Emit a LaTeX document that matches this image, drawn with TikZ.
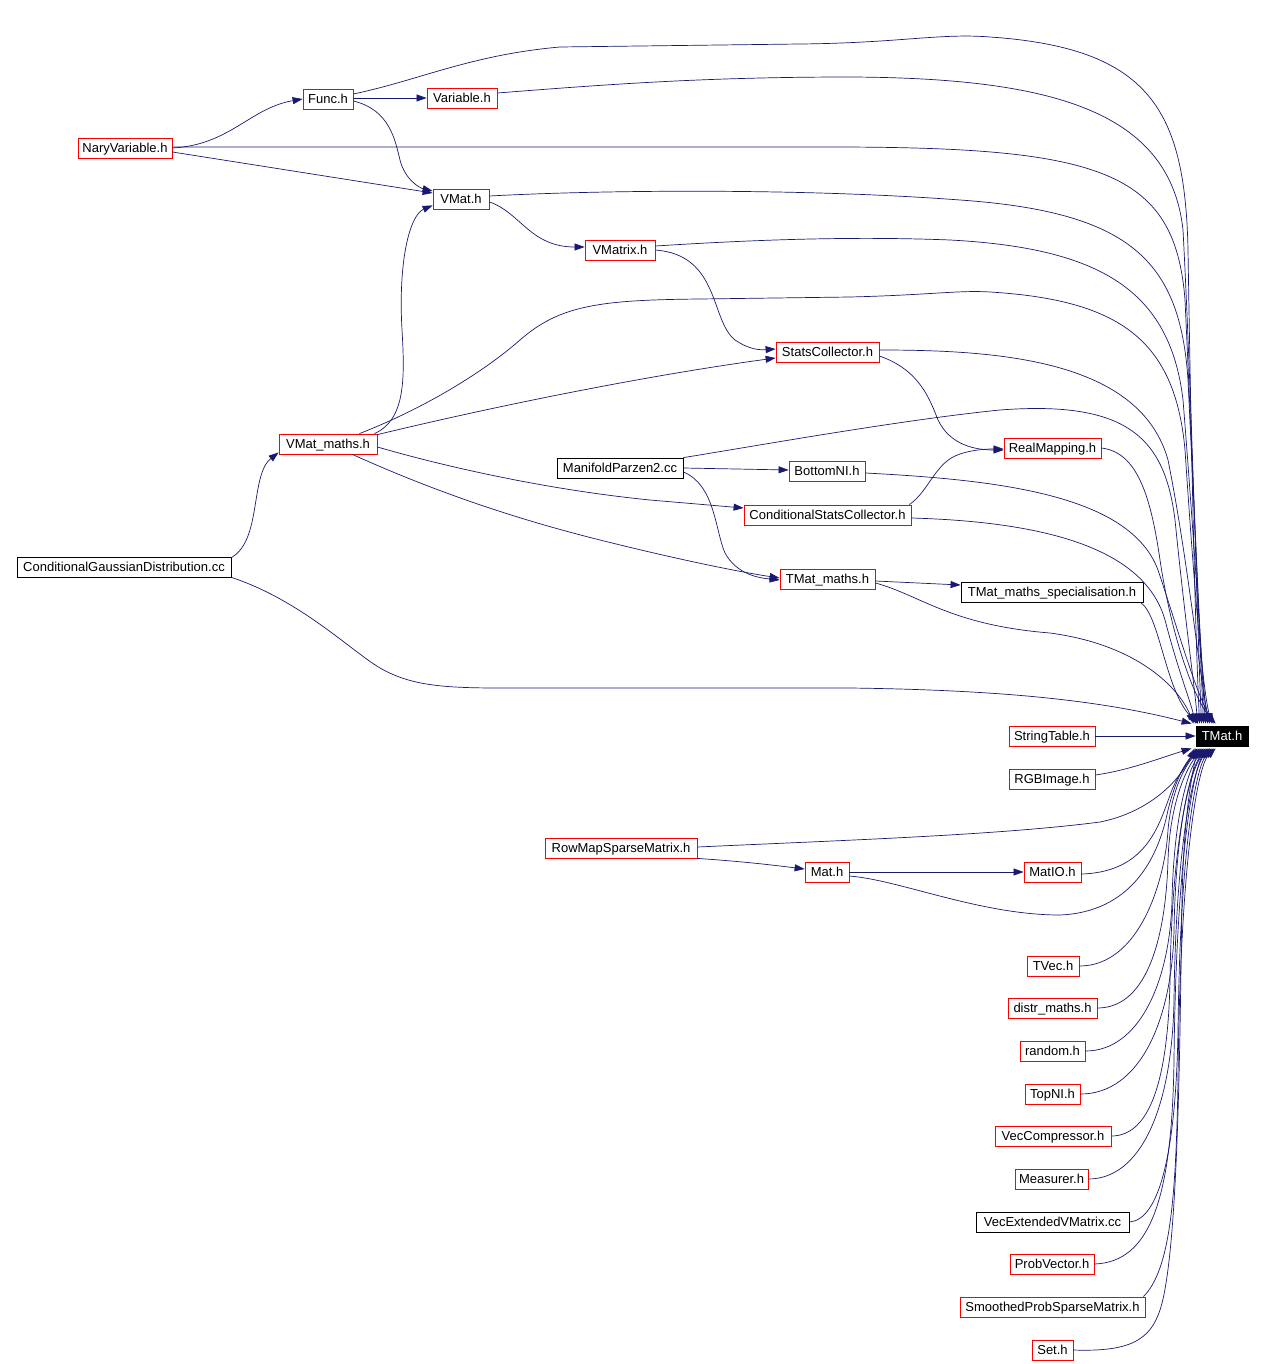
\documentclass[tikz,border=0pt]{standalone}
\usepackage{fontspec}
\setmainfont{Liberation Sans}
\usetikzlibrary{arrows.meta,calc,positioning}
\definecolor{edgeblue}{HTML}{191970}
\tikzset{
  fbox/.style={draw,line width=0.8pt,minimum height=20pt,inner sep=0pt,text height=9.6pt,text depth=0pt,font=\fontsize{13}{15}\selectfont},
  redbox/.style={fbox,draw=red},
  blkbox/.style={fbox,draw=black},
  rootbox/.style={fbox,fill=black,text=white},
  dep/.style={-{Triangle[length=10pt,width=7pt]},draw=edgeblue,line width=0.7pt}
}
\begin{document}
\begin{tikzpicture}[x=1pt,y=-1pt]
\useasboundingbox (0,0) rectangle (1268,1364);
% files
\node[redbox,minimum width=94] (nary) at (125,148) {NaryVariable.h};
\node[redbox,minimum width=50] (func) at (328,99) {Func.h};
\node[redbox,minimum width=70] (variable) at (462,98) {Variable.h};
\node[redbox,minimum width=56] (vmat) at (461,199) {VMat.h};
\node[redbox,minimum width=70] (vmatrix) at (620,250) {VMatrix.h};
\node[redbox,minimum width=103] (stats) at (827.5,352) {StatsCollector.h};
\node[redbox,minimum width=98] (vmaths) at (328,444) {VMat\_maths.h};
\node[blkbox,minimum width=126] (parzen) at (620,468) {ManifoldParzen2.cc};
\node[redbox,minimum width=76] (bottomni) at (827,471) {BottomNI.h};
\node[redbox,minimum width=97] (realmap) at (1052.5,448) {RealMapping.h};
\node[redbox,minimum width=167] (condstats) at (827.5,515) {ConditionalStatsCollector.h};
\node[blkbox,minimum width=214] (condgauss) at (124,567) {ConditionalGaussianDistribution.cc};
\node[redbox,minimum width=95] (tmaths) at (827.5,579) {TMat\_maths.h};
\node[blkbox,minimum width=182] (tmspec) at (1052,592) {TMat\_maths\_specialisation.h};
\node[rootbox,minimum width=52] (tmat) at (1222,736) {TMat.h};
\node[redbox,minimum width=86] (strtab) at (1052,736) {StringTable.h};
\node[redbox,minimum width=86] (rgb) at (1052,779) {RGBImage.h};
\node[redbox,minimum width=152] (rowmap) at (621,848) {RowMapSparseMatrix.h};
\node[redbox,minimum width=44] (mat) at (827,872) {Mat.h};
\node[redbox,minimum width=57] (matio) at (1052.5,872) {MatIO.h};
\node[redbox,minimum width=52] (tvec) at (1053,966) {TVec.h};
\node[redbox,minimum width=89] (distr) at (1052.5,1008) {distr\_maths.h};
\node[redbox,minimum width=65] (random) at (1052.5,1051) {random.h};
\node[redbox,minimum width=55] (topni) at (1052.5,1094) {TopNI.h};
\node[redbox,minimum width=116] (veccomp) at (1053,1136) {VecCompressor.h};
\node[redbox,minimum width=73] (measurer) at (1051.5,1179) {Measurer.h};
\node[blkbox,minimum width=153] (vecext) at (1052.5,1222) {VecExtendedVMatrix.cc};
\node[redbox,minimum width=84] (probvec) at (1052,1264) {ProbVector.h};
\node[redbox,minimum width=185] (smoothed) at (1052.5,1307) {SmoothedProbSparseMatrix.h};
\node[redbox,minimum width=41] (set) at (1052.5,1350) {Set.h};
% NaryVariable.h
\draw[dep] (nary.east) .. controls (230,145) and (250,108) .. (func.west);
\draw[dep] ([yshift=-4]nary.east) -- ([yshift=6]vmat.west);
\draw[dep] ([yshift=1]nary.east) -- (830,147) .. controls (1100,147) and (1175,170) .. (1185,300) .. controls (1192,450) and (1200,650) .. ([xshift=8,yshift=2]tmat.north west);
% Func.h
\draw[dep] ([yshift=1]func.east) -- (variable.west);
\draw[dep] ([yshift=-2]func.east) .. controls (390,110) and (395,140) .. (400,160) .. controls (405,180) and (420,188) .. ([yshift=8]vmat.west);
\draw[dep] ([yshift=5]func.east) .. controls (420,80) and (470,55) .. (560,47) -- (800,44) .. controls (900,43) and (940,33) .. (990,37) .. controls (1150,48) and (1185,110) .. (1188,250) .. controls (1192,500) and (1196,650) .. ([xshift=4,yshift=2]tmat.north west);
% Variable.h
\draw[dep] ([yshift=5]variable.east) .. controls (600,85) and (700,77) .. (850,77) .. controls (1050,78) and (1170,110) .. (1183,230) .. controls (1192,400) and (1198,650) .. ([xshift=6,yshift=2]tmat.north west);
% VMat.h
\draw[dep] ([yshift=-3]vmat.east) .. controls (520,212) and (530,247) .. ([yshift=3]vmatrix.west);
\draw[dep] ([yshift=3]vmat.east) .. controls (600,190) and (800,188) .. (960,200) .. controls (1130,212) and (1180,260) .. (1188,380) .. controls (1196,550) and (1202,680) .. ([xshift=10,yshift=2]tmat.north west);
% VMatrix.h
\draw[dep] (vmatrix.east) .. controls (720,255) and (710,320) .. (735,340) .. controls (750,350) and (760,350) .. ([yshift=3]stats.west);
\draw[dep] ([yshift=4]vmatrix.east) .. controls (750,240) and (850,236) .. (950,240) .. controls (1100,248) and (1170,290) .. (1183,400) .. controls (1195,550) and (1203,690) .. ([xshift=12,yshift=2]tmat.north west);
% StatsCollector.h
\draw[dep] ([yshift=-4]stats.east) .. controls (920,370) and (930,400) .. (938,420) .. controls (950,445) and (975,450) .. ([yshift=-2]realmap.west);
\draw[dep] ([yshift=2]stats.east) .. controls (1000,350) and (1140,360) .. (1168,460) .. controls (1188,560) and (1200,680) .. ([xshift=14,yshift=2]tmat.north west);
% VMat_maths.h
\draw[dep] ([xshift=-3]vmaths.north east) .. controls (405,420) and (405,380) .. (402,330) .. controls (398,260) and (410,215) .. ([yshift=4]vmat.south west);
\draw[dep] ([yshift=-1]vmaths.north east) .. controls (500,405) and (650,375) .. ([yshift=-6]stats.west);
\draw[dep] ([xshift=-18]vmaths.north east) .. controls (420,410) and (480,375) .. (520,340) .. controls (560,305) and (600,300) .. (700,299) -- (850,297) .. controls (930,295) and (960,290) .. (990,292) .. controls (1120,300) and (1175,340) .. (1185,450) .. controls (1195,600) and (1203,690) .. ([xshift=16,yshift=2]tmat.north west);
\draw[dep] ([yshift=-3]vmaths.east) .. controls (450,468) and (550,490) .. (650,500) -- ([yshift=7]condstats.west);
\draw[dep] ([xshift=-25]vmaths.south east) .. controls (420,485) and (500,515) .. (600,540) .. controls (680,560) and (740,572) .. ([yshift=1]tmaths.west);
% ManifoldParzen2.cc
\draw[dep] (parzen.east) -- ([yshift=1]bottomni.west);
\draw[dep] ([yshift=-4]parzen.east) .. controls (715,485) and (715,530) .. (725,553) .. controls (737,575) and (760,578) .. ([yshift=-1]tmaths.west);
\draw[dep] (parzen.north east) .. controls (750,447) and (900,420) .. (1000,410) .. controls (1130,400) and (1165,440) .. (1175,520) .. controls (1185,620) and (1195,690) .. ([xshift=2,yshift=2]tmat.north west);
% BottomNI.h, RealMapping.h
\draw[dep] ([yshift=-2]bottomni.east) .. controls (1000,480) and (1130,495) .. (1158,570) .. controls (1178,630) and (1195,690) .. ([xshift=18,yshift=2]tmat.north west);
\draw[dep] (realmap.east) .. controls (1135,452) and (1150,490) .. (1160,560) .. controls (1172,640) and (1195,700) .. ([xshift=20,yshift=2]tmat.north west);
% ConditionalStatsCollector.h
\draw[dep] ([xshift=-2]condstats.north east) .. controls (930,490) and (935,462) .. (960,454) .. controls (975,449) and (990,449) .. ([yshift=-1]realmap.west);
\draw[dep] ([yshift=-3]condstats.east) .. controls (1050,522) and (1145,550) .. (1165,620) .. controls (1178,670) and (1190,700) .. ([yshift=2]tmat.north west);
% TMat_maths.h
\draw[dep] ([yshift=-2]tmaths.east) -- ([yshift=7]tmspec.west);
\draw[dep] ([yshift=-4]tmaths.east) .. controls (920,595) and (950,625) .. (1050,633) .. controls (1140,645) and (1180,690) .. ([xshift=-2,yshift=2]tmat.north west);
\draw[dep] ([xshift=-3]tmspec.south east) .. controls (1160,615) and (1165,690) .. ([xshift=2,yshift=2]tmat.north west);
% ConditionalGaussianDistribution.cc
\draw[dep] ([yshift=-1]condgauss.north east) .. controls (262,540) and (250,475) .. ([yshift=2]vmaths.south west);
\draw[dep] (condgauss.south east) .. controls (300,600) and (350,650) .. (380,668) .. controls (410,685) and (440,688) .. (500,688) -- (850,688) .. controls (1000,690) and (1100,700) .. ([xshift=-4,yshift=2]tmat.north west);
% lower files
\draw[dep] (strtab.east) -- (tmat.west);
\draw[dep] ([yshift=4]rgb.east) .. controls (1130,770) and (1160,758) .. ([xshift=-4,yshift=-2]tmat.south west);
\draw[dep] ([yshift=1]rowmap.east) .. controls (850,840) and (1000,835) .. (1100,822) .. controls (1150,812) and (1180,780) .. ([xshift=-1,yshift=-2]tmat.south west);
\draw[dep] (rowmap.south east) .. controls (750,862) and (780,866) .. ([yshift=3]mat.west);
\draw[dep] (mat.east) -- (matio.west);
\draw[dep] ([yshift=-4]mat.east) .. controls (900,880) and (980,915) .. (1060,915) .. controls (1130,912) and (1158,860) .. (1168,810) .. controls (1178,770) and (1190,758) .. ([xshift=2,yshift=-2]tmat.south west);
\draw[dep] ([yshift=-2]matio.east) .. controls (1150,872) and (1160,820) .. (1172,790) .. controls (1180,770) and (1192,757) .. ([xshift=4,yshift=-2]tmat.south west);
\draw[dep] (tvec.east) .. controls (1140,966) and (1165,880) .. (1168,830) .. controls (1172,785) and (1188,762) .. ([xshift=6,yshift=-2]tmat.south west);
\draw[dep] (distr.east) .. controls (1150,1008) and (1166,930) .. (1168,860) .. controls (1170,800) and (1188,765) .. ([xshift=8,yshift=-2]tmat.south west);
\draw[dep] (random.east) .. controls (1140,1051) and (1170,980) .. (1172,900) .. controls (1174,810) and (1190,765) .. ([xshift=10,yshift=-2]tmat.south west);
\draw[dep] (topni.east) .. controls (1140,1094) and (1172,1020) .. (1174,930) .. controls (1176,820) and (1192,765) .. ([xshift=12,yshift=-2]tmat.south west);
\draw[dep] (veccomp.east) .. controls (1150,1136) and (1168,1080) .. (1170,980) .. controls (1172,830) and (1192,765) .. ([xshift=14,yshift=-2]tmat.south west);
\draw[dep] (measurer.east) .. controls (1140,1179) and (1172,1110) .. (1174,1000) .. controls (1176,840) and (1194,765) .. ([xshift=16,yshift=-2]tmat.south west);
\draw[dep] (vecext.east) .. controls (1160,1220) and (1176,1150) .. (1178,1030) .. controls (1180,850) and (1196,765) .. ([xshift=18,yshift=-2]tmat.south west);
\draw[dep] (probvec.east) .. controls (1150,1262) and (1172,1200) .. (1174,1060) .. controls (1176,860) and (1194,765) .. ([xshift=14,yshift=-2]tmat.south west);
\draw[dep] ([xshift=-2]smoothed.north east) .. controls (1170,1270) and (1176,1200) .. (1178,1080) .. controls (1180,860) and (1198,765) .. ([xshift=20,yshift=-2]tmat.south west);
\draw[dep] (set.east) .. controls (1130,1352) and (1150,1340) .. (1160,1310) .. controls (1180,1250) and (1180,1000) .. (1182,900) .. controls (1184,800) and (1195,765) .. ([yshift=-2]tmat.south west);
\end{tikzpicture}
\end{document}
